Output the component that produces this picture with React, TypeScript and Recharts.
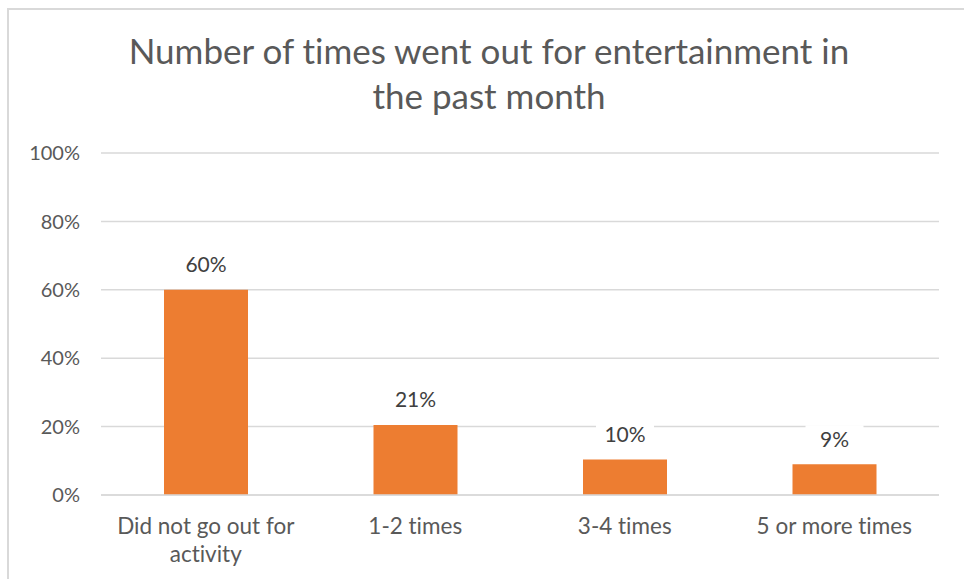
import React from "react";
import {
  BarChart,
  Bar,
  XAxis,
  YAxis,
  CartesianGrid,
  LabelList,
} from "recharts";

const categories = [
  "Did not go out for activity",
  "1-2 times",
  "3-4 times",
  "5 or more times",
];
const shares = [60, 20.5, 10.4, 9];
const yTicks = [0, 20, 40, 60, 80, 100];
const titleLines = [
  "Number of times went out for entertainment in",
  "the past month",
];

const FONT = "Lato, 'Open Sans', sans-serif";
const GRID = "#D9D9D9";
const TEXT = "#595959";
const BAR = "#ED7D31";

const data = categories.map((name, i) => ({ name, value: shares[i] }));

// greedy word wrap by character count (category band is ~200px wide)
function wrapWords(label: string, maxChars = 20) {
  const lines: string[] = [];
  let cur = "";
  label.split(" ").forEach((w) => {
    const next = cur ? cur + " " + w : w;
    if (next.length > maxChars && cur) {
      lines.push(cur);
      cur = w;
    } else {
      cur = next;
    }
  });
  if (cur) lines.push(cur);
  return lines;
}

function CategoryTick(props: any) {
  const { x, y, payload } = props;
  const lines = wrapWords(String(payload.value));
  return (
    <text
      x={x}
      y={y + 23}
      textAnchor="middle"
      fill={TEXT}
      fontSize={22.5}
      fontFamily={FONT}
      style={{ fontVariantLigatures: "none" }}
    >
      {lines.map((l, i) => (
        <tspan key={i} x={x} dy={i === 0 ? "0.35em" : 28}>
          {l}
        </tspan>
      ))}
    </text>
  );
}

function ValueLabel(props: any) {
  const { x, y, width, value } = props;
  const cx = x + width / 2;
  const cy = y - 26;
  return (
    <g>
      <rect x={cx - 29} y={cy - 13} width={58} height={26} fill="#fff" />
      <text
        x={cx}
        y={cy}
        textAnchor="middle"
        dominantBaseline="central"
        fill="#404040"
        fontSize={21}
        fontFamily={FONT}
      >
        {Math.round(value)}%
      </text>
    </g>
  );
}

export default function App() {
  return (
    <div
      style={{
        position: "absolute",
        left: 0,
        top: 0,
        width: 964,
        height: 579,
        overflow: "hidden",
        background: "#fff",
      }}
    >
      <div
        style={{
          position: "absolute",
          left: 7,
          top: 8,
          width: 1000,
          height: 1000,
          border: `2px solid ${GRID}`,
          boxSizing: "border-box",
        }}
      />
      <div
        style={{
          position: "absolute",
          left: 0,
          top: 28,
          width: 978,
          textAlign: "center",
          fontFamily: FONT,
          fontSize: 35,
          lineHeight: "45px",
          color: TEXT,
          fontVariantLigatures: "none",
        }}
      >
        {titleLines.map((t) => (
          <div key={t}>{t}</div>
        ))}
      </div>
      <div style={{ position: "absolute", left: 0, top: 0 }}>
        <BarChart
          width={964}
          height={579}
          data={data}
          margin={{ top: 153, right: 25, bottom: 54, left: 41 }}
        >
          <CartesianGrid vertical={false} stroke={GRID} strokeWidth={1.5} />
          <XAxis
            dataKey="name"
            height={30}
            axisLine={{ stroke: GRID, strokeWidth: 1.5 }}
            tickLine={false}
            interval={0}
            tick={<CategoryTick />}
          />
          <YAxis
            width={60}
            domain={[0, 100]}
            ticks={yTicks}
            tickFormatter={(v: number) => `${v}%`}
            axisLine={false}
            tickLine={false}
            tickMargin={15}
            tick={{ fill: TEXT, fontSize: 20, fontFamily: FONT }}
          />
          <Bar dataKey="value" fill={BAR} barSize={84} isAnimationActive={false}>
            <LabelList dataKey="value" content={<ValueLabel />} />
          </Bar>
        </BarChart>
      </div>
    </div>
  );
}
